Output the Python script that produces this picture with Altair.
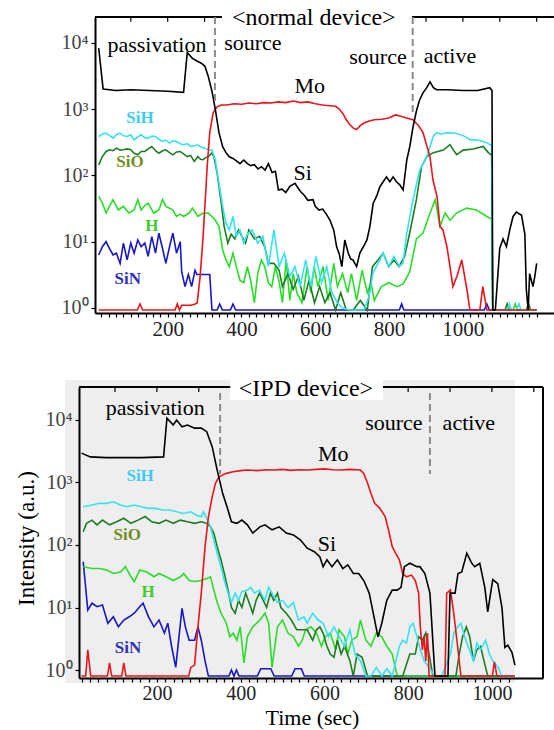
import altair as alt
import pandas as pd

# ---------------- top panel (normal device) ----------------
top_si_t = [13, 25, 60, 100, 150, 200, 243, 253, 267, 282, 291, 301, 310, 320, 329, 339, 349, 358, 367, 377,
            386, 396, 406, 416, 425, 435, 445, 454, 464, 473, 483, 492, 500, 510, 520, 531, 545, 552, 560, 570,
            580, 594, 600, 610, 620, 630, 640, 650, 658, 665, 672, 680, 689, 696, 702, 712, 721, 730, 740, 748,
            757, 766, 775, 784, 793, 802, 811, 820, 829, 838, 848, 856, 865, 875, 883, 892, 902, 911, 920, 929,
            960, 1000, 1040, 1073, 1079, 1081, 1088, 1092, 1100, 1109, 1118, 1127, 1136, 1145, 1159, 1168, 1172, 1177, 1181, 1190,
            1195, 1200]
top_si_v = [8300, 2000, 1900, 1950, 1900, 1850, 1780, 7100, 5800, 5200, 4900, 4400, 3100, 1850, 1000, 440, 270, 220, 190, 180,
            165, 150, 170, 150, 140, 145, 125, 135, 120, 150, 110, 115, 60, 62, 55, 68, 76, 66, 57, 50,
            42, 43, 34, 30, 31, 26, 21, 15, 8.3, 6.5, 4.2, 10.6, 6.8, 5.5, 5.3, 4.2, 6.8, 8.3, 10.6, 17,
            38, 48, 67, 80, 95, 80, 95, 80, 72, 60, 170, 270, 540, 980, 1380, 1750, 2100, 2570, 2100, 1950,
            1950, 1900, 1900, 2100, 1900, 0.93, 0.93, 1.9, 8, 11, 8.4, 15, 24, 28, 25, 13, 1.9, 0.93, 3.3, 2.1,
            3, 4.7]

top_mo_t = [13, 118, 125, 132, 220, 226, 232, 238, 250, 262, 275, 280, 288, 296, 303, 307, 314, 323, 333, 345,
            360, 380, 400, 420, 440, 460, 480, 500, 520, 540, 560, 580, 600, 620, 640, 655, 665, 675, 684, 694,
            703, 712, 722, 732, 746, 760, 780, 799, 818, 832, 847, 865, 880, 892, 911, 919, 930, 938, 946, 957,
            965, 973, 984, 997, 1011, 1019, 1046, 1054, 1065, 1200]
top_mo_v = [0.93, 0.93, 1.15, 0.93, 0.93, 1.15, 0.93, 1.1, 1.1, 1.1, 1.15, 1.2, 3, 12, 55, 135, 440, 870, 1070, 1150,
            1150, 1200, 1180, 1230, 1200, 1250, 1230, 1280, 1250, 1320, 1250, 1280, 1200, 1150, 1120, 1100, 1000, 850, 690, 580,
            515, 490, 560, 615, 660, 690, 700, 730, 815, 780, 730, 690, 560, 440, 190, 85, 48, 17, 15, 8.3,
            4.2, 2.1, 3, 5.3, 1.9, 0.93, 0.93, 2.1, 0.93, 0.93]

top_sih_t = [13, 23, 33, 42, 52, 61, 71, 80, 90, 100, 109, 119, 128, 138, 147, 157, 167, 176, 186, 195,
             205, 214, 224, 234, 243, 253, 262, 272, 282, 291, 301, 310, 320, 329, 339, 349, 358, 367, 377, 386,
             396, 406, 416, 429, 444, 458, 473, 488, 502, 516, 531, 545, 559, 574, 588, 602, 617, 631, 645, 660,
             674, 693, 712, 732, 746, 756, 770, 784, 799, 813, 828, 838, 848, 865, 883, 902, 920, 929, 940, 960,
             980, 1000, 1019, 1040, 1065, 1078, 1081, 1120, 1126, 1132, 1146, 1152, 1158, 1200]
top_sih_v = [385, 420, 433, 400, 364, 410, 433, 395, 385, 410, 344, 380, 408, 370, 364, 390, 385, 350, 324, 340,
             306, 330, 324, 300, 289, 300, 272, 280, 289, 265, 257, 243, 240, 170, 76, 34, 19, 15, 24, 12,
             15, 9.5, 13, 15, 9.5, 12, 4.2, 15, 4.2, 6.7, 3, 4.2, 2.1, 5.3, 2.1, 6, 2.4, 4.2, 1.7, 1.2,
             1.0, 0.93, 0.93, 0.93, 1.5, 3.3, 4.7, 6.7, 4.2, 6, 4.2, 4.8, 13.5, 43, 120, 190, 390, 440, 420, 440,
             430, 400, 345, 340, 310, 280, 0.93, 0.93, 1.15, 0.93, 0.93, 1.15, 0.93, 0.93]

top_sio_t = [13, 23, 33, 42, 52, 61, 71, 80, 90, 100, 109, 119, 128, 138, 147, 157, 167, 176, 186, 195,
             205, 214, 224, 234, 243, 253, 262, 272, 282, 289, 296, 303, 310, 320, 325, 334, 344, 353, 363, 372,
             382, 392, 401, 411, 420, 435, 449, 463, 473, 488, 502, 511, 526, 540, 554, 569, 583, 598, 612, 626,
             640, 655, 669, 684, 703, 722, 741, 755, 770, 784, 799, 813, 827, 842, 856, 874, 888, 902, 920, 947,
             965, 983, 1001, 1028, 1055, 1069, 1078, 1081, 1114, 1120, 1126, 1172, 1178, 1184, 1200]
top_sio_v = [144, 192, 229, 243, 235, 257, 240, 243, 250, 243, 215, 204, 229, 229, 250, 272, 235, 216, 235, 243,
             220, 204, 225, 229, 210, 192, 200, 162, 192, 175, 172, 185, 192, 216, 192, 108, 43, 17, 9.5, 13,
             11, 15, 12, 9.5, 15, 11, 12, 8.4, 4.7, 4.7, 3.7, 2.1, 3.3, 1.9, 3, 1.3, 2.6, 1.2, 2.1, 1.2,
             1.7, 0.93, 1.7, 0.93, 0.93, 1.3, 0.93, 4.2, 5.3, 6.7, 4.2, 5.3, 4.2, 6, 13.5, 43, 135, 190, 220, 240,
             290, 205, 240, 250, 272, 220, 200, 0.93, 0.93, 1.15, 0.93, 0.93, 1.15, 0.93, 0.93]

top_h_t = [13, 23, 33, 42, 52, 66, 80, 95, 109, 119, 128, 138, 147, 162, 176, 186, 195, 205, 214, 224,
           234, 243, 258, 267, 282, 296, 310, 320, 329, 339, 349, 358, 367, 377, 386, 396, 406, 416, 425, 435,
           444, 454, 463, 473, 482, 492, 502, 511, 521, 531, 540, 550, 564, 578, 588, 597, 607, 621, 635, 650,
           660, 674, 688, 698, 712, 727, 741, 751, 760, 779, 799, 822, 838, 856, 874, 892, 911, 925, 938, 952,
           965, 983, 1010, 1037, 1065, 1078, 1081, 1136, 1142, 1148, 1200]
top_h_v = [48, 38, 27, 34, 43, 30, 34, 27, 30, 43, 30, 35, 38, 27, 30, 43, 34, 32, 30, 24,
           26, 24, 27, 32, 24, 27, 27, 24, 21, 17, 7.5, 5.3, 4.2, 6.7, 4.2, 2.6, 2.4, 4.2, 2.6, 1.2,
           3.3, 5.3, 4.2, 2.4, 2.1, 4.2, 2.5, 1.2, 5.3, 1.3, 3.3, 1.7, 1.2, 4.2, 1.7, 4.2, 2.1, 4.2, 1.3, 4.7,
           2.1, 3.3, 1.7, 3.3, 1.3, 3.7, 1.7, 2.4, 1.3, 2.1, 2.4, 2.1, 2.3, 3.5, 11, 13.5, 27, 43, 17, 27,
           21, 27, 32, 30, 24, 22, 0.93, 0.93, 1.15, 0.93, 0.93]

top_sin_t = [13, 23, 33, 42, 52, 61, 71, 80, 90, 100, 109, 119, 128, 138, 147, 157, 167, 176, 186, 195,
             205, 214, 224, 234, 238, 247, 256, 265, 274, 279, 314, 320, 334, 341, 348, 370, 377, 384, 828, 834,
             840, 1058, 1065, 1072, 1200]
top_sin_v = [6.3, 8.4, 10, 7.9, 6.3, 6.7, 4.7, 9.5, 5.3, 9.5, 6.7, 10.6, 8.4, 9.5, 6, 11.9, 6.7, 13.4, 7.9, 4.7,
             8.4, 13.4, 6.7, 10, 3.5, 2.1, 3.2, 2.1, 3.7, 3.2, 3.2, 0.93, 0.93, 1.15, 0.93, 0.93, 1.15, 0.93, 0.93, 1.15,
             0.93, 0.93, 1.15, 0.93, 0.93]

# ---------------- bottom panel (IPD device) ----------------
bot_si_t = [20, 41, 79, 121, 163, 216, 224, 239, 247, 260, 273, 290, 306, 319, 332, 344, 357, 370, 378, 391,
            403, 416, 429, 446, 458, 475, 492, 509, 526, 543, 559, 576, 589, 597, 606, 618, 631, 644, 656, 669,
            682, 694, 707, 720, 728, 737, 749, 762, 774, 783, 791, 804, 821, 828, 840, 852, 864, 895, 900, 912,
            919, 928, 940, 952, 959, 971, 983, 990, 1002, 1014, 1024, 1031, 1038, 1048, 1055]
bot_si_v = [2950, 2570, 2500, 2500, 2500, 2570, 10700, 8300, 10000, 7800, 8300, 7400, 7400, 6500, 3750, 1580, 670, 360, 235, 222,
            250, 210, 155, 195, 210, 175, 195, 155, 145, 120, 89, 78, 65, 45, 58, 45, 58, 42, 48, 35,
            35, 27, 17, 6.3, 3.4, 5.6, 13, 19, 19, 21, 45, 51, 45, 45, 35, 17, 0.8, 0.8, 17, 17,
            35, 37, 74, 51, 45, 51, 21, 8.5, 28, 24, 10, 2.3, 2.5, 1.9, 1.2]

bot_mo_t = [20, 30, 35, 42, 82, 87, 92, 116, 121, 126, 276, 281, 290, 298, 306, 315, 323, 332, 340, 349,
            366, 382, 400, 416, 440, 460, 480, 500, 520, 540, 560, 580, 600, 620, 640, 660, 686, 694, 703, 711,
            720, 732, 745, 753, 762, 770, 779, 787, 796, 808, 817, 825, 829, 834, 838, 842, 846, 850, 888, 892,
            901, 909, 918, 926, 1001, 1006, 1012, 1055]
bot_mo_v = [0.8, 0.8, 2.1, 0.8, 0.8, 1.3, 0.8, 0.8, 1.3, 0.8, 0.8, 1.1, 1.2, 4.9, 17, 94, 280, 590, 980, 1240,
            1400, 1490, 1550, 1580, 1550, 1600, 1580, 1620, 1560, 1600, 1580, 1620, 1650, 1600, 1580, 1620, 1580, 1400, 980, 670,
            465, 390, 285, 175, 94, 74, 58, 35, 31, 33, 27, 17, 4.9, 2.1, 3.4, 1.4, 3.9, 0.8, 0.8, 17,
            19, 8, 2.4, 0.8, 0.8, 1.35, 0.8, 0.8]

bot_sih_t = [24, 45, 62, 79, 96, 113, 129, 146, 163, 180, 197, 214, 231, 247, 264, 281, 294, 306, 311, 319,
             328, 336, 344, 353, 361, 370, 378, 387, 395, 403, 416, 424, 433, 445, 458, 467, 475, 488, 500, 513,
             526, 538, 551, 559, 572, 585, 597, 610, 623, 635, 648, 661, 673, 686, 699, 711, 724, 737, 749, 762,
             779, 787, 796, 804, 812, 821, 829, 838, 850, 863, 880, 901, 909, 918, 926, 935, 943, 956, 964, 973,
             985, 994, 1002, 1015, 1023, 1055]
bot_sih_v = [410, 437, 464, 464, 492, 437, 410, 437, 410, 385, 385, 363, 363, 340, 320, 340, 300, 283, 340, 267,
             196, 120, 74, 45, 27, 17, 12, 17, 13, 18, 19, 21, 17, 19, 13, 21, 17, 12, 13, 10,
             12, 6.3, 7.1, 5.6, 8.1, 6.3, 5.6, 3.4, 4.9, 3.4, 2.4, 4.4, 1.8, 1.4, 0.8, 0.8, 1.1, 0.8, 1.05, 0.8,
             2.4, 3, 2.7, 4.9, 5.6, 3.4, 2.1, 1.4, 1.1, 0.8, 0.8, 1.8, 3.9, 4.9, 5.6, 3.4, 2.4, 1.4, 2.7, 2.1,
             3, 1.8, 1.4, 1.1, 0.8, 0.8]

bot_sio_t = [24, 32, 45, 57, 70, 87, 104, 121, 138, 155, 172, 188, 205, 222, 239, 256, 273, 290, 306, 319,
             328, 336, 344, 353, 361, 370, 378, 387, 395, 403, 412, 420, 429, 437, 445, 454, 462, 471, 479, 488,
             496, 509, 521, 534, 547, 559, 572, 581, 589, 597, 606, 614, 623, 631, 640, 648, 661, 669, 678, 690,
             703, 787, 804, 817, 825, 834, 842, 850, 859, 914, 922, 930, 939, 947, 956, 964, 973, 981, 990, 1055]
bot_sio_v = [163, 222, 250, 210, 250, 210, 235, 268, 222, 250, 285, 235, 222, 250, 222, 250, 235, 222, 235, 222,
             196, 154, 94, 58, 35, 19, 10, 8.1, 13, 10, 17, 12, 8.1, 13, 17, 13, 10, 17, 13, 17,
             10, 8.1, 6.3, 4.4, 4.4, 4.4, 3, 4.4, 4.9, 3.9, 2.4, 1.8, 1.6, 3, 1.8, 2.4, 1.4, 0.8, 1.8, 1.6,
             0.8, 0.8, 1.8, 1.8, 3.4, 3, 3.9, 1.8, 0.8, 0.8, 1.8, 3.4, 4.9, 3.4, 1.4, 2.1, 2.4, 1.4, 0.8, 0.8]

bot_h_t = [24, 45, 62, 79, 96, 113, 125, 138, 146, 159, 176, 193, 205, 222, 239, 256, 264, 277, 290, 306,
           319, 328, 336, 344, 353, 366, 374, 382, 391, 399, 408, 416, 429, 446, 458, 467, 475, 488, 500, 513,
           526, 538, 547, 555, 568, 581, 593, 602, 614, 627, 635, 648, 656, 665, 678, 686, 699, 711, 724, 737,
           749, 762, 774, 1055]
bot_h_v = [45, 42, 42, 40, 35, 37, 45, 31, 26, 40, 37, 31, 35, 31, 27, 31, 35, 27, 26, 27,
           29, 31, 19, 12, 8.1, 5.6, 3.4, 3.9, 3, 4.9, 1.3, 3.4, 4.9, 6.3, 8.1, 5.6, 1.1, 4.9, 6.3, 3.9,
           3.4, 2.4, 3, 4.4, 4.9, 3.9, 2.4, 3.4, 3.9, 2.1, 4.4, 3.4, 1.8, 3, 3.4, 6.3, 3, 2.4, 3.9, 3.4,
           2.4, 1.8, 0.8, 0.8]

bot_sin_t = [24, 35, 45, 57, 70, 83, 96, 108, 121, 134, 146, 159, 167, 180, 193, 205, 218, 226, 235, 245,
             260, 268, 277, 290, 298, 306, 315, 323, 372, 378, 384, 390, 396, 440, 448, 472, 480, 522, 530, 545,
             552, 1055]
bot_sin_v = [54, 9.1, 11.7, 10.3, 11, 5.6, 7.1, 4.9, 6.3, 7.1, 8.1, 10.3, 11.7, 7.1, 4.9, 6.3, 3.9, 5.6, 2.4, 1.1,
             9.7, 4.9, 3, 3, 4.9, 3, 1.4, 0.8, 0.8, 1.0, 0.8, 1.0, 0.8, 0.8, 1.05, 1.05, 0.8, 0.8, 1.05, 1.05,
             0.8, 0.8]

# ---------------- annotations ----------------
top_note_text = ["passivation", "source", "source", "active", "Mo", "Si"]
top_note_t = [171, 431, 770, 965, 585, 566]
top_note_v = [9330, 10000, 6130, 6330, 2240, 109]
top_title_t = [596]
top_title_v = [23800]
top_lab_text = ["SiH", "SiO", "H", "SiN"]
top_lab_t = [125, 98, 157, 92]
top_lab_v = [737, 160, 17.3, 2.74]

bot_note_text = ["passivation", "source", "active", "Mo", "Si"]
bot_note_t = [196, 766, 945, 621, 606]
bot_note_v = [15500, 8940, 8940, 2860, 104]
bot_title_t = [556]
bot_title_v = [31300]
bot_lab_text = ["SiH", "SiO", "H", "SiN"]
bot_lab_t = [160, 129, 179, 131]
bot_lab_v = [1270, 145, 17.7, 2.25]

top_dash_t = [328, 864]
top_dash_v1 = [24400, 24400]
top_dash_v2 = [1240, 880]
bot_dash_t = [351, 852]
bot_dash_v1 = [27000, 27000]
bot_dash_v2 = [1370, 1370]

SERIES = ["SiN", "H", "SiO", "SiH", "Mo", "Si"]
LINE_COL = {"Si": "#000000", "Mo": "#e8161c", "SiH": "#35e3ef", "SiO": "#1b7d22", "H": "#2bdc2b", "SiN": "#1717c4"}
LABEL_COL = {"SiH": "#3ccbf2", "SiO": "#6e8f1e", "H": "#3ccc2c", "SiN": "#3030b8"}
SERIF = "Liberation Serif"

SUP = "'10' + ['\u2070','\u00b9','\u00b2','\u00b3','\u2074'][round(log(datum.value)/LN10)]"
XLAB = "datum.value % 200 === 0 && datum.value <= 1000 ? '' + datum.value : ''"


def make_panel(series, xdom, xrng, ydom, yrng, xoff, yoff, xticks, xfont, xaxis_extra, yaxis_extra,
               notes, title_df, title_text, labels, dashes, frames, topticks, rects=None, zi=0):
    xs = alt.Scale(domain=xdom, range=xrng, nice=False, zero=False)
    ys = alt.Scale(type="log", domain=ydom, range=yrng, nice=False)
    xaxis = alt.Axis(orient="bottom", offset=xoff, values=xticks, labelExpr=XLAB, labelOverlap=False,
                     tickSize=4, tickWidth=1.2, tickColor="black", domainColor="black", domainWidth=2,
                     labelFont=SERIF, labelFontSize=xfont, labelColor="#222", labelPadding=1, grid=False,
                     zindex=zi, **xaxis_extra)
    yaxis = alt.Axis(orient="left", offset=yoff, values=[1, 10, 100, 1000, 10000], labelExpr=SUP,
                     labelOverlap=False, tickSize=4, tickWidth=1.2, tickColor="black", domainColor="black",
                     domainWidth=2, labelFont=SERIF, labelFontSize=20, labelColor="#444", labelPadding=3,
                     grid=False, zindex=zi, **yaxis_extra)

    def X(field):
        return alt.X(field, scale=xs, axis=xaxis)

    def Y(field):
        return alt.Y(field, scale=ys, axis=yaxis)

    layers = []
    if rects is not None:
        layers.append(alt.Chart(rects).mark_rect().encode(
            x=X("x1:Q"), x2="x2:Q", y=Y("y1:Q"), y2="y2:Q", color=alt.Color("c:N", scale=None)))
    for name in SERIES:
        t, v = series[name]
        df = pd.DataFrame({"t": t, "v": v})
        layers.append(alt.Chart(df).mark_line(color=LINE_COL[name], strokeWidth=1.6).encode(
            x=X("t:Q"), y=Y("v:Q")))
    layers.append(alt.Chart(frames).mark_rule(color="black", strokeWidth=2).encode(
        x=X("x1:Q"), x2="x2:Q", y=Y("y1:Q"), y2="y2:Q"))
    layers.append(alt.Chart(topticks).mark_rule(color="black", strokeWidth=1.2).encode(
        x=X("t:Q"), y=Y("v1:Q"), y2="v2:Q"))
    layers.append(alt.Chart(dashes).mark_rule(color="#8a8a8a", strokeWidth=2, strokeDash=[7, 4]).encode(
        x=X("t:Q"), y=Y("v1:Q"), y2="v2:Q"))
    layers.append(alt.Chart(notes).mark_text(font=SERIF, fontSize=22, color="black", align="center",
                                             baseline="middle").encode(
        x=X("t:Q"), y=Y("v:Q"), text="label:N"))
    layers.append(alt.Chart(title_df).mark_text(font=SERIF, fontSize=24, color="black", align="center",
                                                baseline="middle", text=title_text).encode(
        x=X("t:Q"), y=Y("v:Q")))
    layers.append(alt.Chart(labels).mark_text(font=SERIF, fontSize=17, fontWeight="bold", align="center",
                                              baseline="middle").encode(
        x=X("t:Q"), y=Y("v:Q"), text="label:N", color=alt.Color("c:N", scale=None)))
    return alt.layer(*layers)


top_series = {"Si": (top_si_t, top_si_v), "Mo": (top_mo_t, top_mo_v), "SiH": (top_sih_t, top_sih_v),
              "SiO": (top_sio_t, top_sio_v), "H": (top_h_t, top_h_v), "SiN": (top_sin_t, top_sin_v)}
bot_series = {"Si": (bot_si_t, bot_si_v), "Mo": (bot_mo_t, bot_mo_v), "SiH": (bot_sih_t, bot_sih_v),
              "SiO": (bot_sio_t, bot_sio_v), "H": (bot_h_t, bot_h_v), "SiN": (bot_sin_t, bot_sin_v)}

top_notes = pd.DataFrame({"label": top_note_text, "t": top_note_t, "v": top_note_v})
top_title = pd.DataFrame({"t": top_title_t, "v": top_title_v})
top_labels = pd.DataFrame({"label": top_lab_text, "t": top_lab_t, "v": top_lab_v,
                           "c": [LABEL_COL[s] for s in top_lab_text]})
bot_notes = pd.DataFrame({"label": bot_note_text, "t": bot_note_t, "v": bot_note_v})
bot_title = pd.DataFrame({"t": bot_title_t, "v": bot_title_v})
bot_labels = pd.DataFrame({"label": bot_lab_text, "t": bot_lab_t, "v": bot_lab_v,
                           "c": [LABEL_COL[s] for s in bot_lab_text]})
top_dashes = pd.DataFrame({"t": top_dash_t, "v1": top_dash_v1, "v2": top_dash_v2})
bot_dashes = pd.DataFrame({"t": bot_dash_t, "v1": bot_dash_v1, "v2": bot_dash_v2})

TOP_X = [3, 1247]
TOP_Y = [0.84, 24400]
BOT_X = [14, 1122]
BOT_Y = [0.745, 33700]

top_frames = pd.DataFrame({"x1": [3, 862], "x2": [347, 1247], "y1": [24400, 24400], "y2": [24400, 24400]})
bot_frames = pd.DataFrame({"x1": [14, 740, 1122], "x2": [375, 1122, 1122],
                           "y1": [33700, 33700, 0.745], "y2": [33700, 33700, 33700]})
top_tick_t = [100, 200, 300, 900, 1000, 1100, 1200]
bot_tick_t = [100, 200, 300, 800, 900, 1000, 1100]
top_ticks = pd.DataFrame({"t": top_tick_t, "v1": [24400] * 7, "v2": [20700] * 7})
bot_ticks = pd.DataFrame({"t": bot_tick_t, "v1": [33700] * 7, "v2": [28000] * 7})
bot_rects = pd.DataFrame({"x1": [-19, 375], "x2": [1055, 740], "y1": [0.62, 20900], "y2": [43600, 56800],
                          "c": ["#eeeeee", "#ffffff"]})

top = make_panel(top_series, TOP_X, [95, 554], TOP_Y, [313, 17], -417, -95,
                 list(range(20, 1201, 20)), 21, {"title": ""}, {"title": ""},
                 top_notes, top_title, "<normal device>", top_labels, top_dashes, top_frames, top_ticks)

bot = make_panel(bot_series, BOT_X, [79, 543], BOT_Y, [678, 387], -52, -79,
                 list(range(20, 1041, 20)), 20,
                 {"title": "Time (sec)", "titleX": 312, "titleY": 39, "titleFont": SERIF, "titleFontSize": 22,
                  "titleFontWeight": "normal", "titleBaseline": "middle", "titleAlign": "center",
                  "titleColor": "black"},
                 {"title": "Intensity (a.u.)", "titleX": -53, "titleY": 538, "titleAngle": 270,
                  "titleFont": SERIF, "titleFontSize": 23, "titleFontWeight": "normal",
                  "titleBaseline": "middle", "titleAlign": "center", "titleColor": "black"},
                 bot_notes, bot_title, "<IPD device>", bot_labels, bot_dashes, bot_frames, bot_ticks,
                 rects=bot_rects, zi=1)

chart = alt.layer(top, bot).resolve_scale(x="independent", y="independent").properties(
    width=554, height=730, autosize=alt.AutoSizeParams(type="none"), padding=0
).configure_view(strokeWidth=0).configure_axis(grid=False)

chart.save("out.html", embed_options={"renderer": "svg", "actions": False})
